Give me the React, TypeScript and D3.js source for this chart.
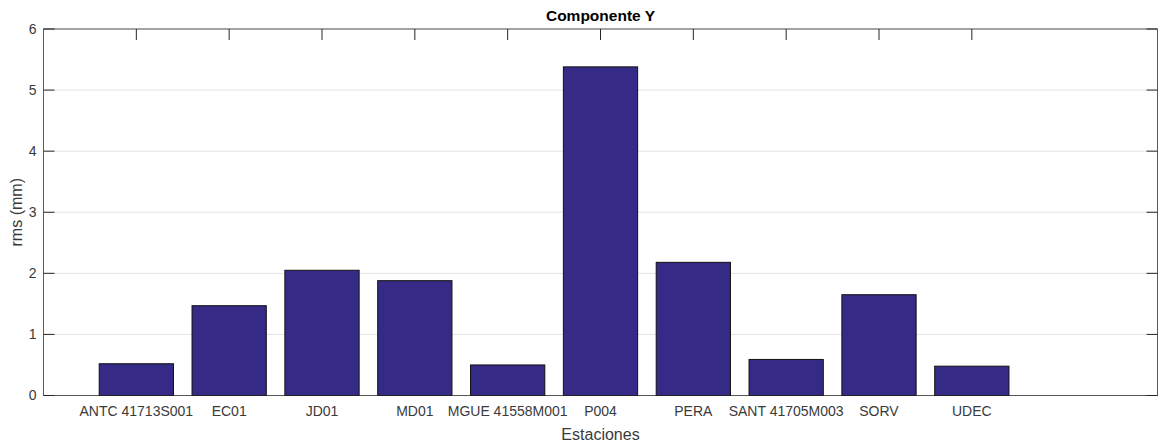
import React from 'react';
import * as d3 from 'd3';

const stations = [
  'ANTC 41713S001', 'EC01', 'JD01', 'MD01', 'MGUE 41558M001',
  'P004', 'PERA', 'SANT 41705M003', 'SORV', 'UDEC',
];
const rmsValues = [0.52, 1.47, 2.05, 1.88, 0.5, 5.38, 2.18, 0.59, 1.65, 0.48];
const yTicks = [0, 1, 2, 3, 4, 5, 6];

const W = 1162;
const H = 444;

export default function App() {
  const margin = { top: 29, right: 4.5, bottom: 48.5, left: 43.5 };
  const width = W - margin.left - margin.right;
  const height = H - margin.top - margin.bottom;

  // x positions as MATLAB does: bars at 1..n, axis from 0 to 12
  const x = d3.scaleLinear().domain([0, 12]).range([0, width]);
  const y = d3.scaleLinear().domain([0, 6]).range([height, 0]);
  const barW = x(0.8) - x(0);
  const tickLen = 11;
  const font = 'Liberation Sans, Arial, Helvetica, sans-serif';
  const axisColor = '#262626';
  const labelColor = '#3a3a3a';

  return (
    <svg width={W} height={H} style={{ position: 'absolute', left: 0, top: 0, background: '#fff' }}>
      <g transform={'translate(' + margin.left + ',' + margin.top + ')'} fontFamily={font}>
        {yTicks.map((t) => (
          <line key={'g' + t} x1={0} x2={width} y1={y(t)} y2={y(t)} stroke="#e3e3e3" strokeWidth={1} />
        ))}

        {stations.map((s, i) => (
          <line key={'tt' + i} x1={x(i + 1)} x2={x(i + 1)} y1={0} y2={tickLen} stroke={axisColor} strokeWidth={1} />
        ))}
        {stations.map((s, i) => (
          <line key={'tb' + i} x1={x(i + 1)} x2={x(i + 1)} y1={height} y2={height - tickLen} stroke={axisColor} strokeWidth={1} />
        ))}
        {yTicks.map((t) => (
          <g key={'yt' + t}>
            <line x1={0} x2={tickLen} y1={y(t)} y2={y(t)} stroke={axisColor} strokeWidth={1} />
            <line x1={width} x2={width - tickLen} y1={y(t)} y2={y(t)} stroke={axisColor} strokeWidth={1} />
          </g>
        ))}

        {rmsValues.map((v, i) => (
          <rect
            key={'b' + i}
            x={x(i + 1) - barW / 2}
            y={y(v)}
            width={barW}
            height={y(0) - y(v)}
            fill="#352a86"
            stroke="#111"
            strokeWidth={1}
          />
        ))}

        <rect x={0} y={0} width={width} height={height} fill="none" stroke={axisColor} strokeOpacity={0.75} strokeWidth={1} />

        {yTicks.map((t) => (
          <text key={'yl' + t} x={-7} y={y(t)} dy="0.35em" textAnchor="end" fontSize={14} fill={labelColor}>
            {t}
          </text>
        ))}
        {stations.map((s, i) => (
          <text key={'xl' + i} x={x(i + 1)} y={height + 20} textAnchor="middle" fontSize={14} fill={labelColor}>
            {s}
          </text>
        ))}

        <text x={width / 2} y={height + 44} textAnchor="middle" fontSize={16} fill={labelColor}>
          Estaciones
        </text>
        <text
          transform={'translate(' + (-22) + ',' + height / 2 + ') rotate(-90)'}
          textAnchor="middle"
          fontSize={16}
          fill={labelColor}
        >
          rms (mm)
        </text>
        <text x={width / 2} y={-8} textAnchor="middle" fontSize={15.5} fontWeight="bold" fill="#000">
          Componente Y
        </text>
      </g>
    </svg>
  );
}
